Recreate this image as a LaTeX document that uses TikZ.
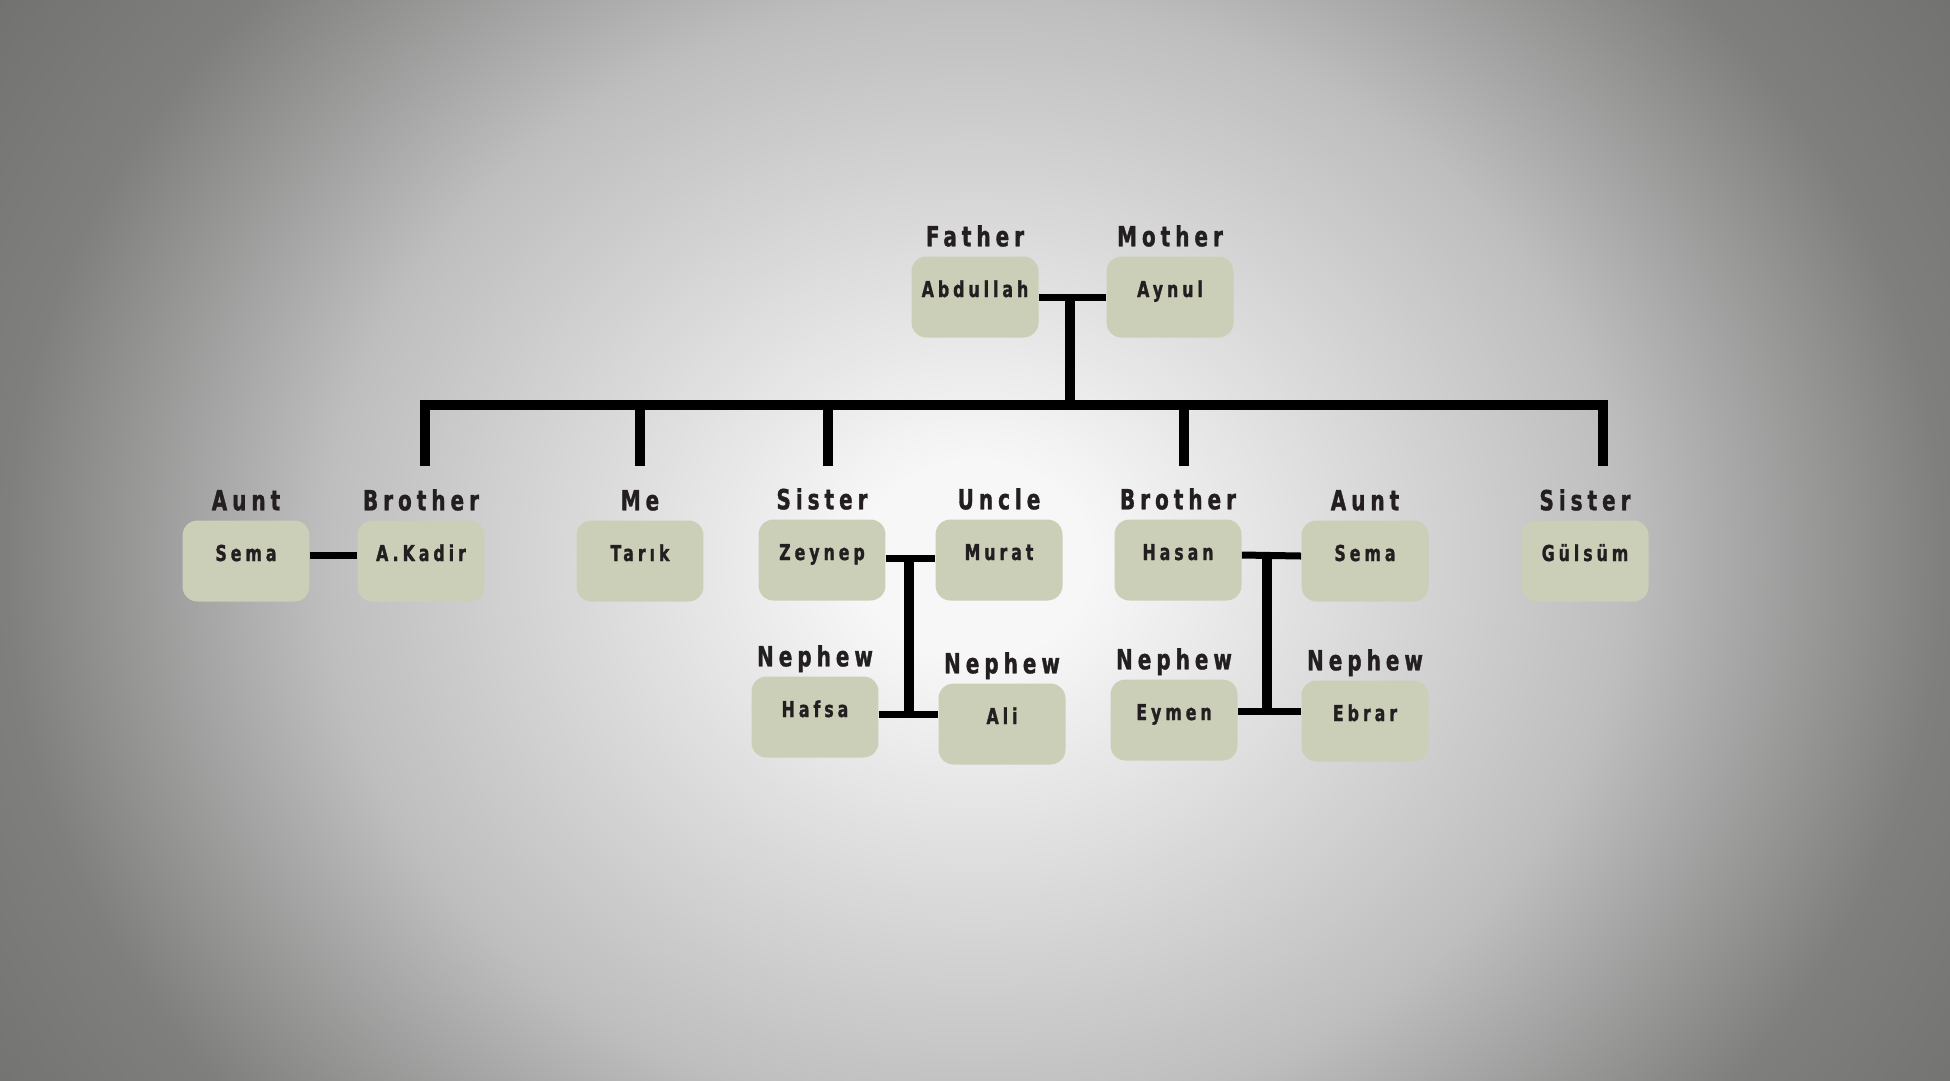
\documentclass[tikz,border=0pt]{standalone}
\usepackage{fontspec}
\usetikzlibrary{positioning}
\newfontfamily\tagfont[FakeStretch=0.72,LetterSpace=18,FakeBold=1.2]{DejaVu Sans}
\definecolor{boxfill}{HTML}{CBCFB8}
\definecolor{ink}{HTML}{231F20}
\definecolor{bgA}{HTML}{F7F7F7}
\definecolor{bgB}{HTML}{BEBEBE}
\definecolor{bgC}{HTML}{7F7F7E}
\definecolor{bgD}{HTML}{727271}
\pgfdeclareradialshading{backdrop}{\pgfpoint{0bp}{0bp}}{color(0bp)=(bgA);color(2.25bp)=(bgA);color(12.75bp)=(bgB);color(19bp)=(bgC);color(23bp)=(bgD);color(50bp)=(bgD)}
\tikzset{
  person/.style={fill=boxfill,rounded corners=.3cm,minimum width=2.54cm,minimum height=1.62cm,inner sep=0pt,
    text height=.25cm,text depth=.25cm,text=ink,font=\tagfont\bfseries\fontsize{12.5}{14}\selectfont},
  tag/.style={inner sep=0pt,text depth=0pt,text=ink,font=\tagfont\bfseries\fontsize{15.8}{18}\selectfont},
  stem/.style={draw=black,line width=.19cm},
  couple/.style={draw=black,line width=.14cm}}
\begin{document}
\begin{tikzpicture}[x=.02cm,y=-.02cm]
\useasboundingbox (0,0) rectangle (1950,1080);
\begin{scope}\clip (0,0) rectangle (1950,1080);
\shade[shading=backdrop] (975,560) ellipse [x radius=25.5cm,y radius=22cm];
\end{scope}
\node[person] (abdullah) at (975,297) {Abdullah};
\node[person] (aynul) at (1170,297) {Aynul};
\node[person] (semaL) at (246,561) {Sema};
\node[person] (akadir) at (421,561) {A.Kadir};
\node[person] (tarik) at (640,561) {Tarık};
\node[person] (zeynep) at (822,560) {Zeynep};
\node[person] (murat) at (999,560) {Murat};
\node[person] (hasan) at (1178,560) {Hasan};
\node[person] (semaR) at (1365,561) {Sema};
\node[person] (gulsum) at (1585,561) {Gülsüm};
\node[person] (hafsa) at (815,717) {Hafsa};
\node[person] (ali) at (1002,724) {Ali};
\node[person] (eymen) at (1174,720) {Eymen};
\node[person] (ebrar) at (1365,721) {Ebrar};
\foreach \p/\t in {abdullah/Father,aynul/Mother,semaL/Aunt,akadir/Brother,tarik/Me,zeynep/Sister,murat/Uncle,
  hasan/Brother,semaR/Aunt,gulsum/Sister,hafsa/Nephew,ali/Nephew,eymen/Nephew,ebrar/Nephew}
  \node[tag,above=.19cm of \p] (\p T) {\t};
\coordinate (bar) at (1070,405);
\coordinate (dA) at (425,466);\coordinate (dT) at (640,466);\coordinate (dZ) at (828,466);
\coordinate (dH) at (1184,466);\coordinate (dG) at (1603,466);
\draw[couple] (abdullah) -- (aynul);
\draw[stem] (abdullah -| bar) -- (bar);
\draw[stem] (dA) |- (bar) -| (dG);
\draw[stem] (dT) -- (dT |- bar);\draw[stem] (dZ) -- (dZ |- bar);\draw[stem] (dH) -- (dH |- bar);
\draw[couple] ([yshift=.12cm]semaL.east) -- ([yshift=.12cm]akadir.west);
\draw[couple] ([yshift=.04cm]zeynep.east) -- ([yshift=.04cm]murat.west);
\coordinate (zmJ) at (909,558);\coordinate (haJ) at (909,714);
\draw[stem] (zmJ) -- (haJ);
\draw[couple] (hafsa.east |- haJ) -- (ali.west |- haJ);
\draw[couple] ([yshift=.1cm]hasan.east) -- ([yshift=.1cm]semaR.west);
\coordinate (hsJ) at (1267,555);\coordinate (eeJ) at (1267,711);
\draw[stem] (hsJ) -- (eeJ);
\draw[couple] (eymen.east |- eeJ) -- (ebrar.west |- eeJ);
\end{tikzpicture}
\end{document}
